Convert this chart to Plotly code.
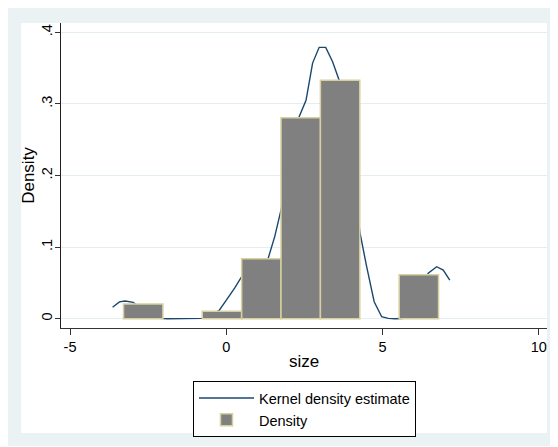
import plotly.graph_objects as go

# Histogram bins (edges) and densities
bin_edges = [-3.29, -2.03, -0.77, 0.49, 1.75, 3.01, 4.27, 5.53, 6.79]
bin_density = [0.0205, None, 0.0103, 0.0838, 0.2807, 0.333, None, 0.0615]

# Kernel density estimate curve
kde_x = [-3.64, -3.42, -3.24, -2.98, -2.76, -2.55, -2.33, -2.11, -1.89, -1.67,
         -1.45, -1.23, -1.01, -0.79, -0.57, -0.35, -0.23, 0.0, 0.27, 0.49,
         0.71, 0.93, 1.15, 1.34, 1.55, 1.75, 1.97, 2.15, 2.32, 2.55,
         2.76, 2.97, 3.18, 3.40, 3.61, 3.83, 4.05, 4.28, 4.49, 4.73,
         4.97, 5.18, 5.40, 5.62, 5.84, 6.06, 6.28, 6.46, 6.73, 6.94, 7.15]
kde_y = [0.0159, 0.0235, 0.0247, 0.0229, 0.0150, 0.0070, 0.0020, 0.0004, 0.0, 0.0,
         0.0, 0.0, 0.0, 0.0005, 0.0030, 0.0080, 0.0115, 0.0260, 0.0430, 0.0587,
         0.0700, 0.0760, 0.0800, 0.0844, 0.1150, 0.1520, 0.2000, 0.2450, 0.2810, 0.3050,
         0.3570, 0.3790, 0.3790, 0.3590, 0.3330, 0.2800, 0.2000, 0.1190, 0.0726, 0.0237,
         0.0028, 0.0005, 0.0, 0.0002, 0.0030, 0.0200, 0.0450, 0.0634, 0.0726, 0.0680, 0.0540]

x_ticks = [-5, 0, 5, 10]
x_ticklabels = ["-5", "0", "5", "10"]
y_ticks = [0, 0.1, 0.2, 0.3, 0.4]
y_ticklabels = ["0", ".1", ".2", ".3", ".4"]

centers = [(a + b) / 2 for a, b in zip(bin_edges[:-1], bin_edges[1:])]
widths = [b - a for a, b in zip(bin_edges[:-1], bin_edges[1:])]

FONT = "Liberation Sans, Arial, sans-serif"
BG = "#EAF2F3"
FS = 14.5

fig = go.Figure()
fig.add_trace(go.Scatter(
    x=kde_x, y=kde_y, mode="lines", name="Kernel density estimate",
    line=dict(color="#1A476F", width=1.4), xaxis="x", yaxis="y"))
fig.add_trace(go.Bar(
    x=centers, y=bin_density, width=widths, name="Density",
    marker=dict(color="#808080", line=dict(color="#D6CF9E", width=1.5)),
    xaxis="x2", yaxis="y2"))

xr = [-5.29, 10.26]
yr = [-0.013, 0.413]

fig.update_layout(
    width=558, height=447,
    margin=dict(l=53, r=19, t=15, b=127, autoexpand=False),
    paper_bgcolor="white", plot_bgcolor="white",
    font=dict(family=FONT, size=FS, color="black"),
    showlegend=True,
    legend=dict(x=0.2716, y=-0.174, xanchor="left", yanchor="top",
                bordercolor="black", borderwidth=1, bgcolor="white",
                font=dict(size=FS), itemwidth=55, tracegroupgap=0),
    xaxis=dict(range=xr, tickvals=x_ticks, ticktext=x_ticklabels,
               showgrid=False, zeroline=False, showline=True, linecolor="#333333",
               linewidth=1, ticks="outside", ticklen=6, tickcolor="#333333",
               title=dict(text="size", standoff=0), tickfont=dict(size=FS)),
    yaxis=dict(range=yr, tickvals=y_ticks, ticktext=y_ticklabels, tickangle=-90,
               showgrid=True, gridcolor="#E4EDEF", gridwidth=1, zeroline=False,
               showline=True, linecolor="#222222", linewidth=1,
               ticks="outside", ticklen=5, tickcolor="#333333",
               ticklabelstandoff=-3,
               title=dict(text="Density", standoff=0), tickfont=dict(size=FS)),
    xaxis2=dict(range=xr, overlaying="x", visible=False, showgrid=False),
    yaxis2=dict(range=yr, overlaying="y", visible=False, showgrid=False),
    shapes=[
        dict(type="rect", xref="paper", yref="paper",
             x0=-0.1132, x1=1.0165, y0=-0.3869, y1=1.0525,
             fillcolor=BG, line=dict(width=0), layer="below"),
        dict(type="rect", xref="paper", yref="paper",
             x0=-0.0823, x1=1.0, y0=-0.3443, y1=1.0,
             fillcolor="white", line=dict(width=0), layer="below"),
    ],
)

fig.write_html("out.html")
